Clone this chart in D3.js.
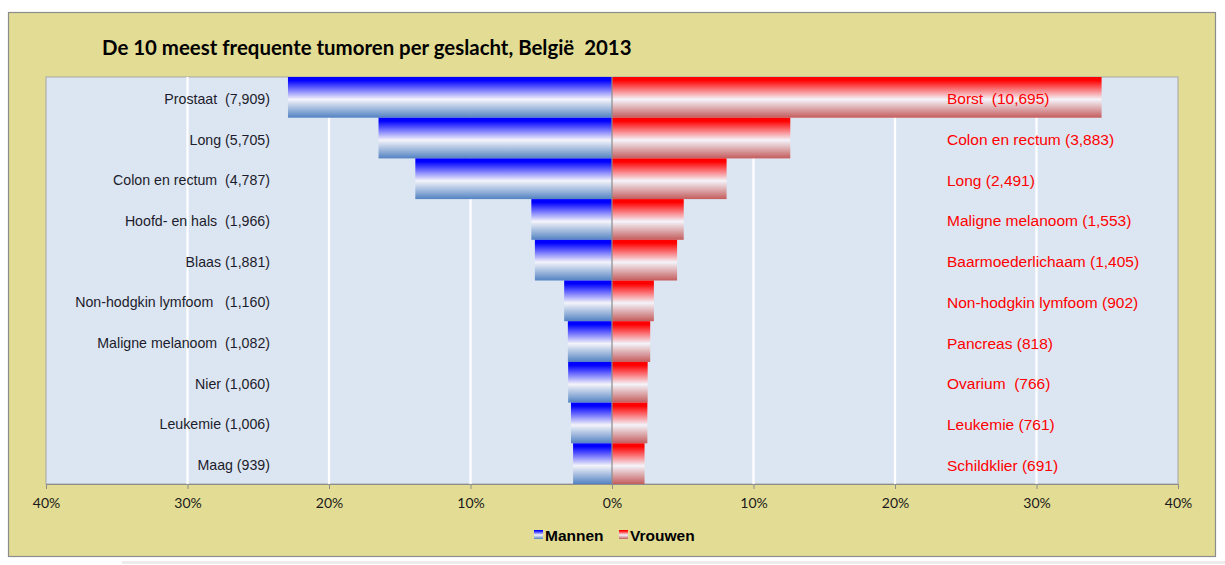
<!DOCTYPE html>
<html>
<head>
<meta charset="utf-8">
<script src="https://cdn.jsdelivr.net/npm/d3@7"></script>
<style>
  html, body { margin: 0; padding: 0; background: #ffffff; }
  svg { display: block; }
</style>
</head>
<body>
<svg id="chart" width="1225" height="565"></svg>
<script>
// ---- data ----
const title = "De 10 meest frequente tumoren per geslacht, België  2013";
const menLabels = ["Prostaat  (7,909)", "Long (5,705)", "Colon en rectum  (4,787)", "Hoofd- en hals  (1,966)", "Blaas (1,881)",
  "Non-hodgkin lymfoom   (1,160)", "Maligne melanoom  (1,082)", "Nier (1,060)", "Leukemie (1,006)", "Maag (939)"];
const menPct = [22.9, 16.5, 13.9, 5.7, 5.45, 3.38, 3.12, 3.1, 2.9, 2.75];
const womenLabels = ["Borst  (10,695)", "Colon en rectum (3,883)", "Long (2,491)", "Maligne melanoom (1,553)", "Baarmoederlichaam (1,405)",
  "Non-hodgkin lymfoom (902)", "Pancreas (818)", "Ovarium  (766)", "Leukemie (761)", "Schildklier (691)"];
const womenPct = [34.6, 12.6, 8.1, 5.07, 4.6, 2.96, 2.7, 2.52, 2.5, 2.3];
const tickValues = [-40, -30, -20, -10, 0, 10, 20, 30, 40];
const gridValues = [-30, -20, -10, 10, 20, 30];
const seriesNames = ["Mannen", "Vrouwen"];

// ---- layout ----
const svg = d3.select("#chart");
const plot = { left: 46, right: 1178, top: 77, bottom: 484 };
const x = d3.scaleLinear().domain([-40, 40]).range([plot.left, plot.right]);
const rows = d3.range(menPct.length);
const y = d3.scaleBand().domain(rows).range([plot.top, plot.bottom]).padding(0);

// gradients
const defs = svg.append("defs");
function grad(id, top, bottom) {
  const g = defs.append("linearGradient").attr("id", id).attr("x1", 0).attr("y1", 0).attr("x2", 0).attr("y2", 1);
  g.append("stop").attr("offset", "0%").attr("stop-color", top);
  g.append("stop").attr("offset", "8%").attr("stop-color", top);
  g.append("stop").attr("offset", "55%").attr("stop-color", "#f4f4fa");
  g.append("stop").attr("offset", "100%").attr("stop-color", bottom);
}
grad("gBlue", "#0000ff", "#5282c2");
grad("gRed", "#ff0000", "#c45c5c");

// page line below chart
svg.append("rect").attr("x", 122).attr("y", 561).attr("width", 1103).attr("height", 3).attr("fill", "#ececec");

// outer chart area
svg.append("rect").attr("x", 8.5).attr("y", 12.5).attr("width", 1207).attr("height", 544)
  .attr("fill", "#e2dc94").attr("stroke", "#8c8c8c").attr("stroke-width", 1.2);

// plot background
svg.append("rect").attr("x", plot.left).attr("y", plot.top)
  .attr("width", plot.right - plot.left).attr("height", plot.bottom - plot.top)
  .attr("fill", "#dce6f2").attr("stroke", "#a6a6a6").attr("stroke-width", 1);

// gridlines
svg.append("g").selectAll("line").data(gridValues).join("line")
  .attr("x1", d => x(d)).attr("x2", d => x(d))
  .attr("y1", plot.top).attr("y2", plot.bottom)
  .attr("stroke", "#ffffff").attr("stroke-width", 2.2);

// bars
svg.append("g").selectAll("rect").data(rows).join("rect")
  .attr("x", i => x(-menPct[i])).attr("y", i => y(i))
  .attr("width", i => x(0) - x(-menPct[i])).attr("height", y.bandwidth())
  .attr("fill", "url(#gBlue)");
svg.append("g").selectAll("rect").data(rows).join("rect")
  .attr("x", x(0)).attr("y", i => y(i))
  .attr("width", i => x(womenPct[i]) - x(0)).attr("height", y.bandwidth())
  .attr("fill", "url(#gRed)");

// center axis line
svg.append("line").attr("x1", x(0)).attr("x2", x(0)).attr("y1", plot.top).attr("y2", plot.bottom)
  .attr("stroke", "#8c8c8c").attr("stroke-width", 1.2);

// x axis
const axis = d3.axisBottom(x).tickValues(tickValues).tickSize(5).tickSizeOuter(0).tickPadding(9)
  .tickFormat(d => Math.abs(d) + "%");
const ax = svg.append("g").attr("transform", `translate(0,${plot.bottom})`).call(axis);
ax.select(".domain").attr("stroke", "#8c8c8c").attr("stroke-width", 1.2);
ax.selectAll(".tick line").attr("stroke", "#8c8c8c");
ax.selectAll(".tick text").attr("fill", "#1a1a1a").style("font-family", "Lato, 'Open Sans', sans-serif").style("font-size", "14px");

// left labels
svg.append("g").selectAll("text").data(rows).join("text")
  .attr("x", 270).attr("y", i => y(i) + y.bandwidth() / 2 + 1.5)
  .attr("text-anchor", "end").attr("dominant-baseline", "central")
  .attr("xml:space", "preserve").style("white-space", "pre")
  .style("font-family", "'Liberation Sans', Arial, sans-serif").style("font-size", "14.2px")
  .attr("fill", "#1c1c2c")
  .text(i => menLabels[i]);

// right labels
svg.append("g").selectAll("text").data(rows).join("text")
  .attr("x", 947).attr("y", i => y(i) + y.bandwidth() / 2 + 1.5)
  .attr("text-anchor", "start").attr("dominant-baseline", "central")
  .attr("xml:space", "preserve").style("white-space", "pre")
  .style("font-family", "'Liberation Sans', Arial, sans-serif").style("font-size", "15.5px")
  .attr("fill", "#ff0000")
  .text(i => womenLabels[i]);

// title
const t = svg.append("text").attr("x", 102).attr("y", 55)
  .attr("xml:space", "preserve").style("white-space", "pre")
  .style("font-family", "Lato, 'Open Sans', sans-serif").style("font-weight", "bold").style("font-size", "19px")
  .attr("fill", "#000").text(title);
const tw = t.node().getComputedTextLength();
t.style("font-size", (19 * 530 / tw).toFixed(2) + "px");

// legend
const legend = svg.append("g");
const legendX = [534, 619];
const legendFill = ["url(#gBlue)", "url(#gRed)"];
seriesNames.forEach((name, k) => {
  legend.append("rect").attr("x", legendX[k]).attr("y", 530).attr("width", 9).attr("height", 9).attr("fill", legendFill[k]);
  legend.append("text").attr("x", legendX[k] + 11).attr("y", 535)
    .attr("dominant-baseline", "central")
    .style("font-family", "'Liberation Sans', Arial, sans-serif").style("font-weight", "bold").style("font-size", "15.5px")
    .attr("fill", "#000").text(name);
});
</script>
</body>
</html>
